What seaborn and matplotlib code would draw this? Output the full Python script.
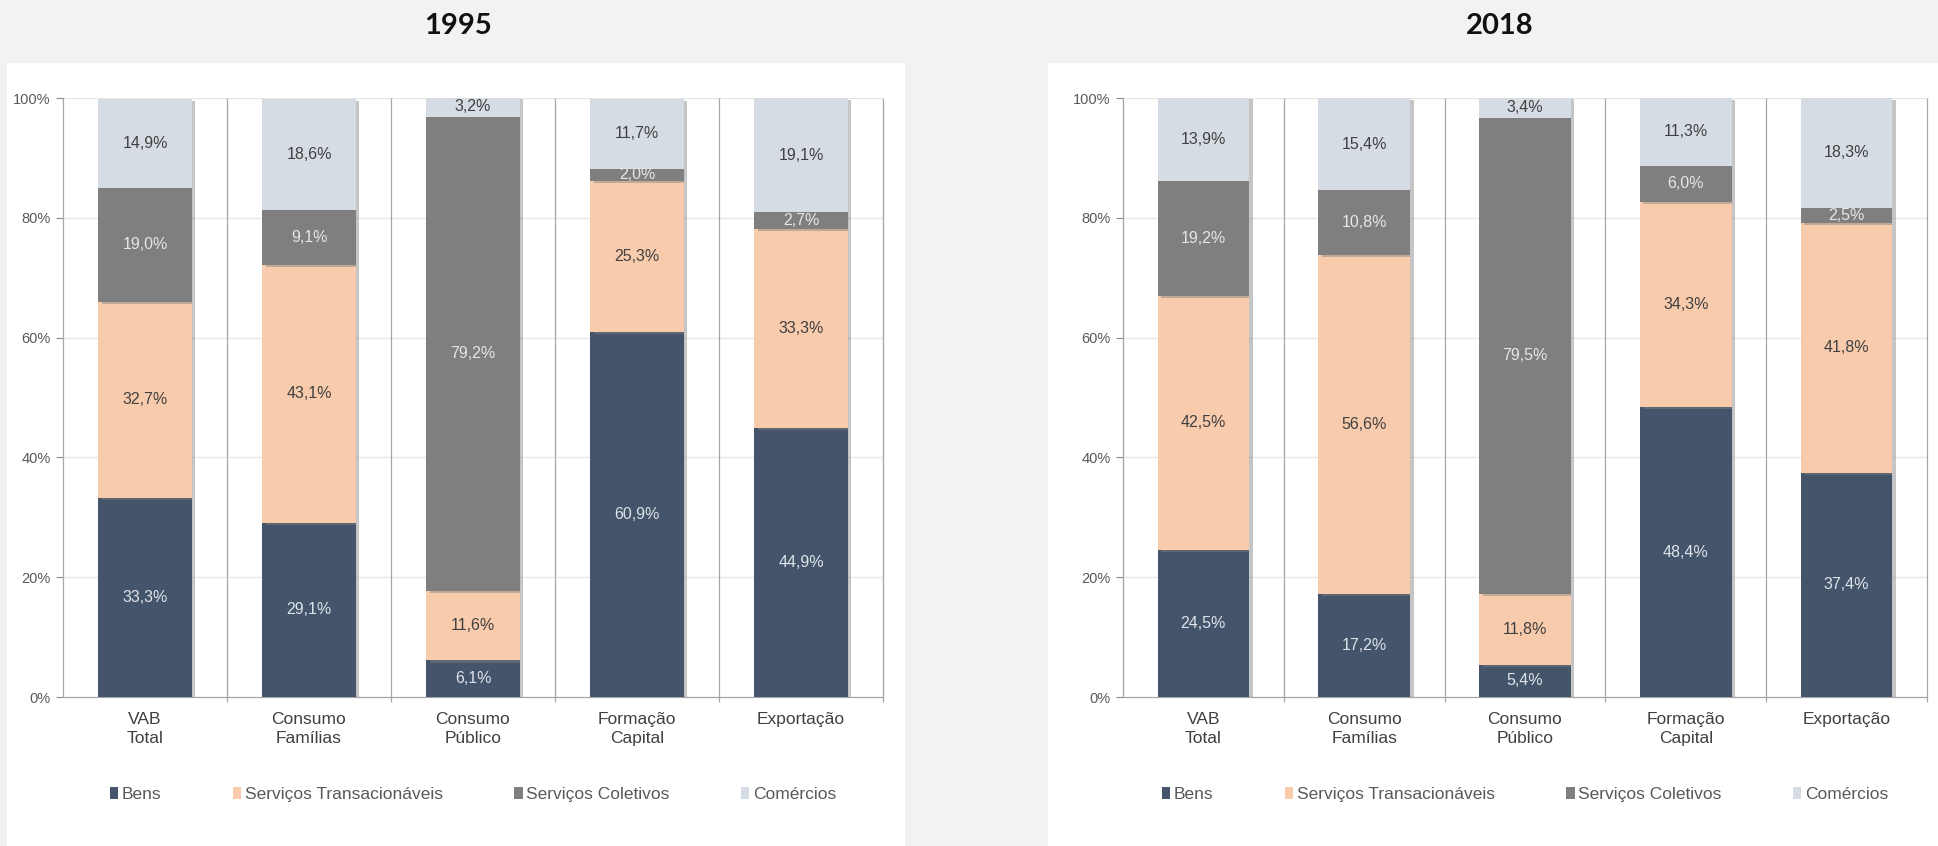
import matplotlib
matplotlib.use("Agg")
import matplotlib.pyplot as plt
import matplotlib.patheffects as pe
from matplotlib.patches import Rectangle, Patch
from matplotlib import font_manager
import numpy as np
import pandas as pd
import seaborn as sns

# ---- data -------------------------------------------------------------
categories = ["VAB\nTotal", "Consumo\nFamílias", "Consumo\nPúblico",
              "Formação\nCapital", "Exportação"]
series = ["Bens", "Serviços Transacionáveis", "Serviços Coletivos", "Comércios"]
years = ["1995", "2018"]

bens_1995 = [33.3, 29.1, 6.1, 60.9, 44.9]
transac_1995 = [32.7, 43.1, 11.6, 25.3, 33.3]
coletivos_1995 = [19.0, 9.1, 79.2, 2.0, 2.7]
comercios_1995 = [14.9, 18.6, 3.2, 11.7, 19.1]

bens_2018 = [24.5, 17.2, 5.4, 48.4, 37.4]
transac_2018 = [42.5, 56.6, 11.8, 34.3, 41.8]
coletivos_2018 = [19.2, 10.8, 79.5, 6.0, 2.5]
comercios_2018 = [13.9, 15.4, 3.4, 11.3, 18.3]

y_ticks = [0, 20, 40, 60, 80, 100]

# ---- styling ----------------------------------------------------------
sns.set_theme(style="white")
available = {f.name for f in font_manager.fontManager.ttflist}
body_font = "Liberation Sans Narrow" if "Liberation Sans Narrow" in available else "Liberation Sans"
plt.rcParams["font.family"] = [body_font, "DejaVu Sans"]

colors = {
    "Bens": "#44546a",
    "Serviços Transacionáveis": "#f8cbad",
    "Serviços Coletivos": "#7f7f7f",
    "Comércios": "#d6dce4",
}
label_colors = {
    "Bens": "#dfe3ea",
    "Serviços Transacionáveis": "#404040",
    "Serviços Coletivos": "#e6e6e6",
    "Comércios": "#404040",
}

W, H = 1938, 846
fig = plt.figure(figsize=(W / 100, H / 100), dpi=100)
fig.patch.set_facecolor("#f2f2f2")

# white panels behind each chart
for x0, x1 in [(7, 905), (1048, 1938)]:
    fig.patches.append(Rectangle((x0 / W, 0), (x1 - x0) / W, (H - 63) / H,
                                 transform=fig.transFigure, facecolor="white",
                                 edgecolor="none", zorder=-5))

datasets = {
    "1995": [bens_1995, transac_1995, coletivos_1995, comercios_1995],
    "2018": [bens_2018, transac_2018, coletivos_2018, comercios_2018],
}
axes_px = {"1995": (63, 883), "2018": (1123, 1927)}
title_x = {"1995": 458, "2018": 1500}
top_px, bottom_px = 98, 697

shadow = [pe.SimplePatchShadow(offset=(2.5, -1.5), shadow_rgbFace="#808080", alpha=0.45),
          pe.Normal()]

for year in years:
    x0, x1 = axes_px[year]
    ax = fig.add_axes([x0 / W, (H - bottom_px) / H, (x1 - x0) / W,
                       (bottom_px - top_px) / H])
    ax.set_facecolor("none")
    values = datasets[year]
    bottoms = np.zeros(len(categories))
    for name, vals in zip(series, values):
        df = pd.DataFrame({"categoria": categories, "valor": vals})
        sns.barplot(data=df, x="categoria", y="valor", order=categories,
                    color=colors[name], saturation=1, width=0.57,
                    bottom=bottoms.copy(), ax=ax, zorder=3,
                    linewidth=0, edgecolor="none")
        for patch in ax.patches[-len(categories):]:
            patch.set_path_effects(shadow)
            patch.set_clip_on(True)
        for i, v in enumerate(vals):
            ax.text(i, bottoms[i] + v / 2, f"{v:.1f}%".replace(".", ","),
                    ha="center", va="center", fontsize=11.5,
                    color=label_colors[name], zorder=5)
        bottoms += np.array(vals)

    ax.set_xlim(-0.5, 4.5)
    ax.set_ylim(0, 100)
    ax.set_yticks(y_ticks)
    ax.set_yticklabels([f"{t}%" for t in y_ticks], fontsize=10.5, color="#595959")
    ax.set_xlabel("")
    ax.set_ylabel("")
    ax.tick_params(axis="x", length=0, pad=11, labelsize=12.5, labelcolor="#404040")
    ax.tick_params(axis="y", length=5, width=0.8, color="#8c8c8c", left=True, pad=4)
    for lbl in ax.get_xticklabels():
        lbl.set_linespacing(1.3)

    # grid and separators
    for t in y_ticks[1:]:
        ax.axhline(t, color="#e6e6e6", lw=0.9, zorder=1)
    ax.vlines(np.arange(0.5, 4.6, 1.0), -0.9, 100, colors="#a6a6a6",
              lw=0.9, zorder=2, clip_on=False)
    for side in ["top", "right"]:
        ax.spines[side].set_visible(False)
    ax.spines["left"].set_color("#a6a6a6")
    ax.spines["left"].set_linewidth(0.9)
    ax.spines["bottom"].set_color("#a6a6a6")
    ax.spines["bottom"].set_linewidth(0.9)

    handles = [Patch(facecolor=colors[s], edgecolor="none", label=s) for s in series]
    ax.legend(handles=handles, loc="center", bbox_to_anchor=(0.5, -0.163), ncol=4,
              frameon=False, fontsize=12.5, handlelength=0.5, handleheight=0.7,
              handletextpad=0.2, columnspacing=4.1, labelcolor="#595959")

    fig.text(title_x[year] / W, 1 - 26 / H, year, ha="center", va="center",
             fontsize=21, fontweight="bold", color="#111111",
             family=["Lato", "DejaVu Sans"])

fig.savefig("out.png", dpi=100, facecolor=fig.get_facecolor())
